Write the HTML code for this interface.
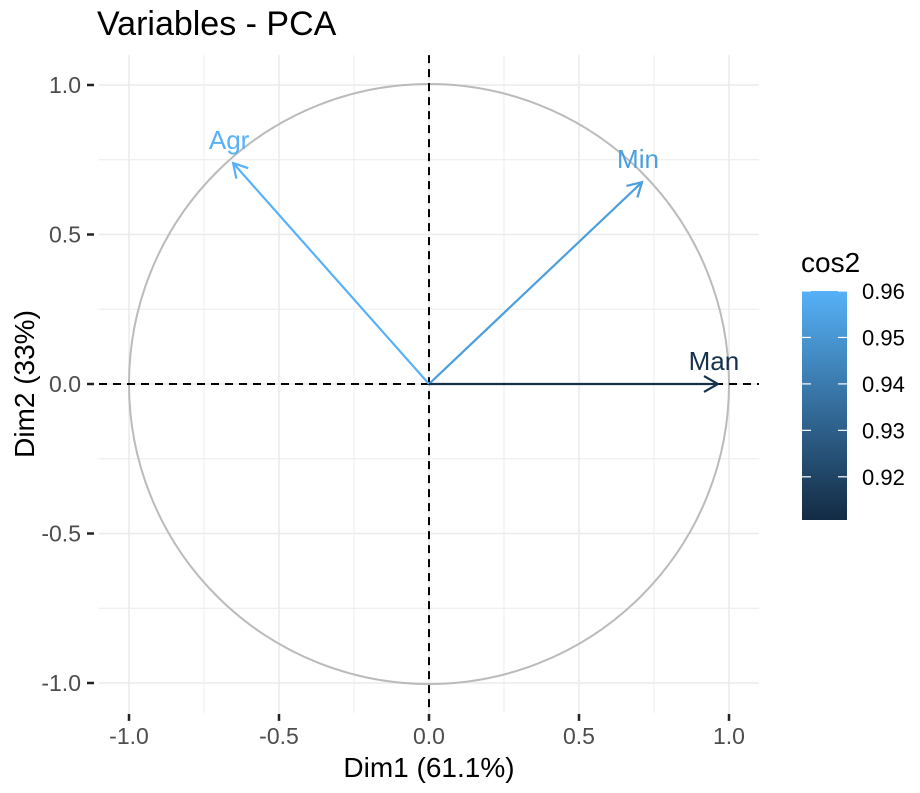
<!DOCTYPE html>
<html><head><meta charset="utf-8"><style>
body{margin:0;background:#fff;font-family:"Liberation Sans",Arial,sans-serif}
svg text{font-family:"Liberation Sans",Arial,sans-serif}
</style></head><body>
<svg id="chart" width="920" height="788" xmlns="http://www.w3.org/2000/svg">
<defs><linearGradient id="cg" x1="0" y1="1" x2="0" y2="0">
<stop offset="0" stop-color="#132B43"/><stop offset="1" stop-color="#56B1F7"/></linearGradient></defs>
<text x="97" y="35" font-size="34" fill="#000">Variables - PCA</text>
<g id="grid"></g>
<g id="axes"></g>
<g id="marks"></g>
<text x="429" y="777" font-size="28" text-anchor="middle" fill="#000">Dim1 (61.1%)</text>
<text transform="translate(34,384) rotate(-90)" font-size="28" text-anchor="middle" fill="#000">Dim2 (33%)</text>
<text x="801" y="272" font-size="28" fill="#000">cos2</text>
<rect x="802" y="291" width="45" height="229" fill="url(#cg)"/>
<g id="legend"></g>
</svg>
<script>
const varNames=["Agr","Min","Man"];
const dim1=[-0.653,0.71,0.963];
const dim2=[0.739,0.675,0.0];
const cos2=[0.961,0.953,0.913];
const ticks=[-1.0,-0.5,0.0,0.5,1.0];
const tickLabels=["-1.0","-0.5","0.0","0.5","1.0"];
const legendTicks=[0.92,0.93,0.94,0.95,0.96];
const cMin=0.9107,cMax=0.96;
const NS="http://www.w3.org/2000/svg";
const X=v=>429+v*300, Y=v=>384-v*299;
function el(t,a,p){const e=document.createElementNS(NS,t);for(const k in a)e.setAttribute(k,a[k]);document.getElementById(p).appendChild(e);return e;}
function col(c){let t=Math.max(0,Math.min(1,(c-cMin)/(cMax-cMin)));const a=[0x13,0x2B,0x43],b=[0x56,0xB1,0xF7];return "rgb("+a.map((v,i)=>Math.round(v+(b[i]-v)*t)).join(",")+")";}
const x0=X(-1.1),x1=X(1.1),y0=Y(1.1),y1=Y(-1.1);
for(let v=-1;v<=1.001;v+=0.25){
  const major=Math.abs(v*2-Math.round(v*2))<1e-6;
  let g=el("line",{x1:X(v),x2:X(v),y1:y0,y2:y1,stroke:"#ebebeb","stroke-width":major?1.6:0.9},"grid");
  
  
  g=el("line",{y1:Y(v),y2:Y(v),x1:x0,x2:x1,stroke:"#ebebeb","stroke-width":major?1.6:0.9},"grid");
  
  
}
let c=el("circle",{cx:X(0),cy:Y(0),r:300,fill:"none",stroke:"#bbb","stroke-width":2},"grid");


let h=el("line",{x1:x0,x2:x1,y1:Y(0),y2:Y(0),stroke:"#000","stroke-width":2,"stroke-dasharray":"8,6"},"grid");


h=el("line",{y1:y0,y2:y1,x1:X(0),x2:X(0),stroke:"#000","stroke-width":2,"stroke-dasharray":"8,6"},"grid");


ticks.forEach((v,i)=>{
  let t=el("line",{x1:X(v),x2:X(v),y1:y1+1,y2:y1+8,stroke:"#222","stroke-width":2.5},"axes");
  
  
  t=el("text",{x:X(v),y:y1+31,"font-size":23,"text-anchor":"middle",fill:"#4d4d4d"},"axes");t.textContent=tickLabels[i];
  
  
  t=el("line",{x1:x0-12,x2:x0-5,y1:Y(v),y2:Y(v),stroke:"#222","stroke-width":2.5},"axes");
  
  
  t=el("text",{x:x0-18,y:Y(v)+8,"font-size":23,"text-anchor":"end",fill:"#4d4d4d"},"axes");t.textContent=tickLabels[i];
  
  
});
varNames.forEach((n,i)=>{
  const cc=col(cos2[i]),ex=X(dim1[i]),ey=Y(dim2[i]),sx=X(0),sy=Y(0);
  const ang=Math.atan2(ey-sy,ex-sx),L=16,w=0.52;
  const p=`M${sx},${sy}L${ex},${ey}M${ex-L*Math.cos(ang-w)},${ey-L*Math.sin(ang-w)}L${ex},${ey}L${ex-L*Math.cos(ang+w)},${ey-L*Math.sin(ang+w)}`;
  let a=el("path",{d:p,stroke:cc,"stroke-width":2.2,fill:"none"},"marks");
  
  
  let t=el("text",{x:ex-4,y:ey-14,"font-size":26,"text-anchor":"middle",fill:cc},"marks");t.textContent=n;
  
  
});
legendTicks.forEach(v=>{
  const y=520-(v-cMin)/(cMax-cMin)*229;
  let t=el("line",{x1:802,x2:811,y1:y,y2:y,stroke:"#fff","stroke-width":1.2},"legend");
  
  
  t=el("line",{x1:838,x2:847,y1:y,y2:y,stroke:"#fff","stroke-width":1.2},"legend");
  
  
  t=el("text",{x:862,y:y+8,"font-size":22,fill:"#000"},"legend");t.textContent=v.toFixed(2);
  
  
});
</script>
</body></html>
